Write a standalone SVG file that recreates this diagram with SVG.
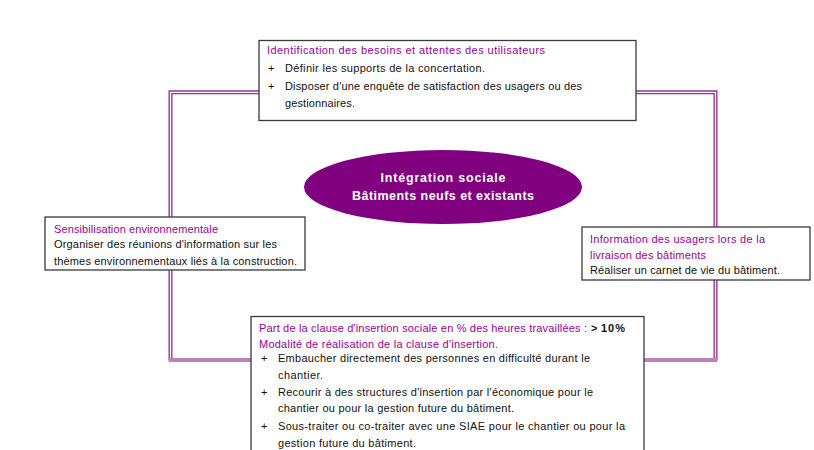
<svg xmlns="http://www.w3.org/2000/svg" width="814" height="450" viewBox="0 0 814 450">
<style>
.box{fill:#fff;stroke:#3a3a3a;stroke-width:1.3}
.t{font-family:"Liberation Sans",Arial,sans-serif;font-size:11px;fill:#111}
.p{fill:#990099}
.b{font-weight:bold}
.e{font-family:"Liberation Sans",Arial,sans-serif;font-size:12.5px;font-weight:bold;fill:#fff;text-anchor:middle}
.fr{fill:none;stroke:#9b2d9b;stroke-width:4}
.gap{fill:none;stroke:#fff;stroke-width:1.3}
</style>
<rect width="814" height="450" fill="#fff"/>
<g id="connectors">
<path class="fr" d="M170.5,360 L170.5,92.3 L715.5,92.3 L715.5,360"/>
<path class="gap" d="M170.5,360 L170.5,92.3 L715.5,92.3 L715.5,360"/>
<path d="M168.5,360 L717.5,360" stroke="#c080c0" stroke-width="4" fill="none"/>
</g>
<g id="center">
<ellipse cx="443" cy="187" rx="139" ry="37" fill="#800080"/>
<text class="e" x="443" y="182" textLength="125">Intégration sociale</text>
<text class="e" x="443" y="200" textLength="182">Bâtiments neufs et existants</text>
</g>
<g id="top">
<rect class="box" x="259" y="40.5" width="377" height="80"/>
<text class="t p" x="267" y="54" textLength="278">Identification des besoins et attentes des utilisateurs</text>
<text class="t" x="268" y="72">+</text>
<text class="t" x="285" y="72" textLength="200">Définir les supports de la concertation.</text>
<text class="t" x="268" y="90">+</text>
<text class="t" x="285" y="90" textLength="297">Disposer d'une enquête de satisfaction des usagers ou des</text>
<text class="t" x="285" y="107" textLength="70">gestionnaires.</text>
</g>
<g id="left">
<rect class="box" x="45" y="217" width="260" height="53"/>
<text class="t p" x="54" y="233" textLength="164">Sensibilisation environnementale</text>
<text class="t" x="54" y="248" textLength="223">Organiser des réunions d'information sur les</text>
<text class="t" x="54" y="265" textLength="243">thèmes environnementaux liés à la construction.</text>
</g>
<g id="right">
<rect class="box" x="582" y="227" width="228" height="53"/>
<text class="t p" x="590" y="243" textLength="175">Information des usagers lors de la</text>
<text class="t p" x="590" y="259" textLength="116">livraison des bâtiments</text>
<text class="t" x="590" y="274" textLength="190">Réaliser un carnet de vie du bâtiment.</text>
</g>
<g id="bottom">
<rect class="box" x="251" y="316.5" width="393" height="140"/>
<text class="t p" x="259" y="332" textLength="328">Part de la clause d'insertion sociale en % des heures travaillées :</text>
<text class="t b" x="591" y="332">&gt;</text>
<text class="t b" x="601" y="332" textLength="24">10%</text>
<text class="t p" x="259" y="348" textLength="239">Modalité de réalisation de la clause d'insertion.</text>
<text class="t" x="261" y="362">+</text>
<text class="t" x="278" y="362" textLength="312">Embaucher directement des personnes en difficulté durant le</text>
<text class="t" x="278" y="379" textLength="45">chantier.</text>
<text class="t" x="261" y="396">+</text>
<text class="t" x="278" y="396" textLength="315">Recourir à des structures d'insertion par l'économique pour le</text>
<text class="t" x="278" y="412" textLength="236">chantier ou pour la gestion future du bâtiment.</text>
<text class="t" x="261" y="430">+</text>
<text class="t" x="278" y="430" textLength="347">Sous-traiter ou co-traiter avec une SIAE pour le chantier ou pour la</text>
<text class="t" x="278" y="447" textLength="138">gestion future du bâtiment.</text>
</g>
</svg>
